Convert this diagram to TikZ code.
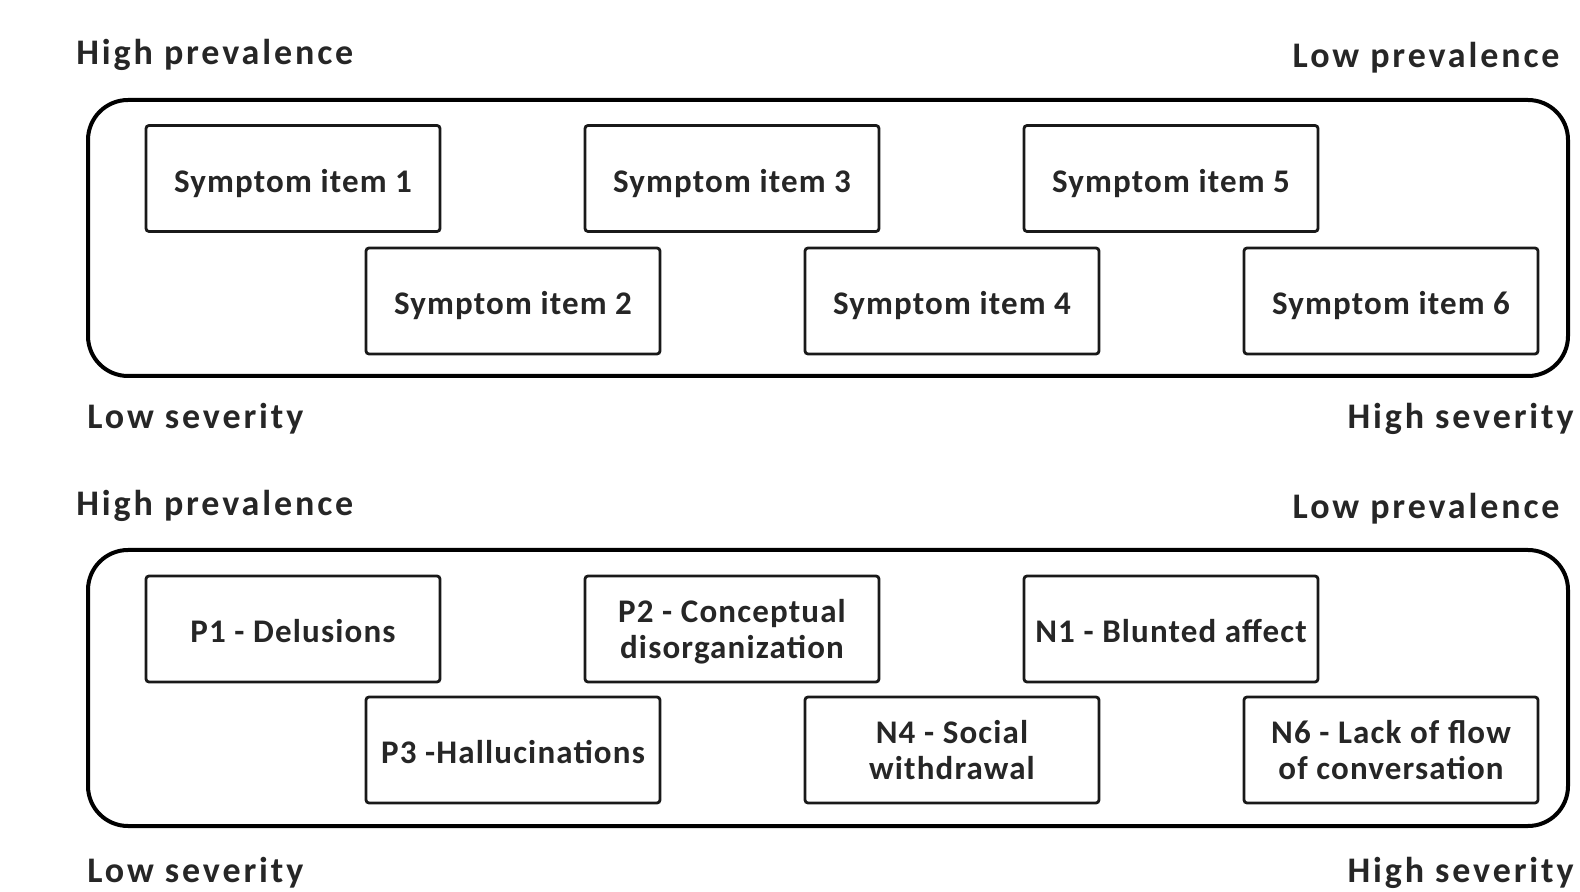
\documentclass[tikz,border=0pt]{standalone}
\usepackage{fontspec}
\setmainfont{Carlito}
\newfontfamily\labelfont[LetterSpace=8]{Carlito}
\newfontfamily\itemfont[LetterSpace=3.5]{Carlito}
\begin{document}
\begin{tikzpicture}[x=0.5pt,y=-0.5pt,
  txt/.style={font=\labelfont\fontsize{18}{18}\selectfont\bfseries, text=black!85, inner sep=0pt},
  panel/.style={draw=black, line width=2pt, rounded corners=20pt, minimum width=740pt, minimum height=138pt, inner sep=0pt},
  item/.style={draw=black!90, line width=1.4pt, rounded corners=1.5pt, minimum width=147pt, minimum height=53pt, align=center, inner sep=0pt, text depth=0pt, font=\itemfont\fontsize{16.5}{18}\selectfont\bfseries, text=black!85},
  oneline/.style={item, text height=13.6pt, text depth=0pt}
]
\useasboundingbox (0,0) rectangle (1580,892);
% ---------- top panel ----------
\node[panel] (outerA) at (828,238) {};
\node[txt, anchor=base west] (hpA) at (76,65) {High prevalence};
\node[txt, anchor=base east] (lpA) at (1560,68) {Low prevalence};
\node[txt, anchor=base west] (lsA) at (87,429) {Low severity};
\node[txt, anchor=base east] (hsA) at (1574,429) {High severity};
\node[oneline] (s1) at (293,178.5) {Symptom item 1};
\node[oneline] (s3) at (732,178.5) {Symptom item 3};
\node[oneline] (s5) at (1171,178.5) {Symptom item 5};
\node[oneline] (s2) at (513,301) {Symptom item 2};
\node[oneline] (s4) at (952,301) {Symptom item 4};
\node[oneline] (s6) at (1391,301) {Symptom item 6};
% ---------- bottom panel ----------
\node[panel] (outerB) at (828,688) {};
\node[txt, anchor=base west] (hpB) at (76,516) {High prevalence};
\node[txt, anchor=base east] (lpB) at (1560,519) {Low prevalence};
\node[txt, anchor=base west] (lsB) at (87,882) {Low severity};
\node[txt, anchor=base east] (hsB) at (1574,882) {High severity};
\node[oneline] (p1) at (293,629) {P1 - Delusions};
\node[item] (p2) at (732,629) {P2 - Conceptual\\disorganization};
\node[oneline] (n1) at (1171,629) {N1 - Blunted affect};
\node[oneline] (p3) at (513,750) {P3 -Hallucinations};
\node[item] (n4) at (952,750) {N4 - Social\\withdrawal};
\node[item] (n6) at (1391,750) {N6 - Lack of flow\\of conversation};
\end{tikzpicture}
\end{document}
